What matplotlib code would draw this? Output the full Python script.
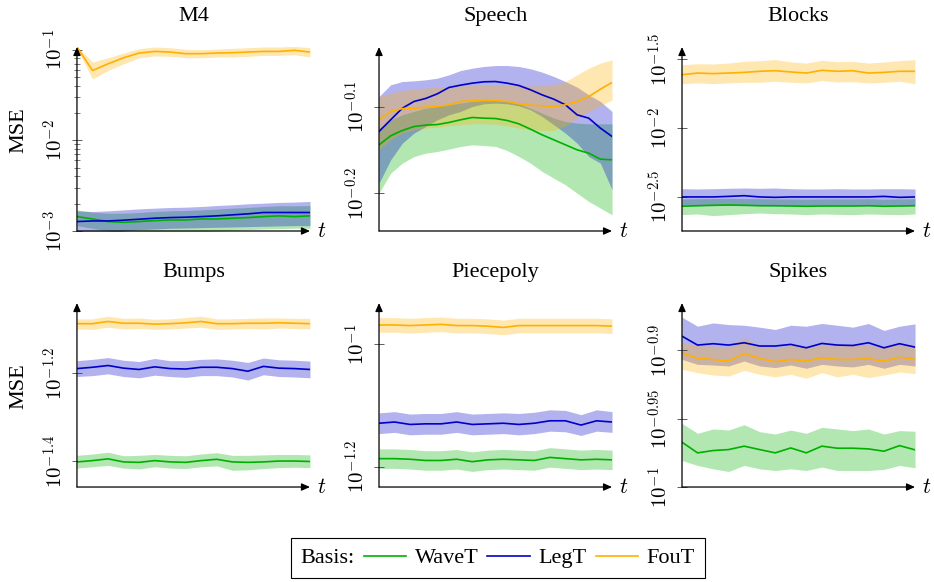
import numpy as np
import matplotlib.pyplot as plt
from matplotlib.lines import Line2D
from matplotlib.ticker import FixedLocator, FixedFormatter, NullLocator, LogLocator, NullFormatter

plt.rcParams['font.family'] = ['Liberation Serif', 'DejaVu Serif']
plt.rcParams['mathtext.fontset'] = 'cm'

bases = ['WaveT', 'LegT', 'FouT']
colors = ['#00b000', '#0000c8', '#ffb000']

# log10(MSE): mean line, lower and upper band edge
m4_wave = [-2.841, -2.867, -2.896, -2.904, -2.896, -2.885, -2.878, -2.878, -2.867, -2.867, -2.859, -2.852, -2.841, -2.833, -2.841, -2.833]
m4_wave_lo = [-2.941, -2.970, -3.000, -3.007, -3.007, -3.007, -3.007, -3.007, -3.007, -3.000, -2.993, -2.985, -2.978, -2.974, -2.970, -2.970]
m4_wave_hi = [-2.767, -2.793, -2.804, -2.804, -2.796, -2.785, -2.778, -2.774, -2.767, -2.759, -2.748, -2.741, -2.730, -2.722, -2.722, -2.719]
m4_leg = [-2.896, -2.889, -2.889, -2.881, -2.870, -2.859, -2.852, -2.848, -2.841, -2.833, -2.822, -2.811, -2.796, -2.796, -2.796, -2.796]
m4_leg_lo = [-3.119, -3.063, -3.026, -3.000, -2.985, -2.978, -2.970, -2.967, -2.963, -2.959, -2.956, -2.952, -2.948, -2.944, -2.941, -2.941]
m4_leg_hi = [-2.778, -2.785, -2.778, -2.767, -2.756, -2.748, -2.741, -2.737, -2.730, -2.719, -2.711, -2.700, -2.693, -2.685, -2.681, -2.674]
m4_fou = [-0.970, -1.230, -1.156, -1.089, -1.037, -1.019, -1.026, -1.044, -1.044, -1.037, -1.033, -1.026, -1.019, -1.019, -1.007, -1.026]
m4_fou_lo = [-0.989, -1.322, -1.230, -1.156, -1.089, -1.070, -1.074, -1.089, -1.089, -1.081, -1.081, -1.074, -1.063, -1.063, -1.056, -1.081]
m4_fou_hi = [-0.963, -1.137, -1.089, -1.037, -0.989, -0.970, -0.978, -0.996, -1.000, -0.993, -0.985, -0.978, -0.970, -0.970, -0.963, -0.978]

speech_wave = [-0.1438, -0.1333, -0.1271, -0.1225, -0.1209, -0.1202, -0.1178, -0.1147, -0.1120, -0.1128, -0.1132, -0.1155, -0.1194, -0.1256, -0.1322, -0.1380, -0.1438, -0.1496, -0.1535, -0.1605, -0.1612]
speech_wave_lo = [-0.2000, -0.1767, -0.1651, -0.1574, -0.1535, -0.1516, -0.1488, -0.1457, -0.1438, -0.1446, -0.1457, -0.1504, -0.1574, -0.1651, -0.1748, -0.1826, -0.1903, -0.2000, -0.2097, -0.2174, -0.2252]
speech_wave_hi = [-0.1244, -0.1147, -0.1089, -0.1050, -0.1012, -0.0992, -0.0973, -0.0953, -0.0934, -0.0922, -0.0922, -0.0934, -0.0961, -0.1012, -0.1070, -0.1128, -0.1167, -0.1186, -0.1194, -0.1194, -0.1194]
speech_leg = [-0.1283, -0.1147, -0.1012, -0.0934, -0.0899, -0.0845, -0.0771, -0.0744, -0.0721, -0.0705, -0.0702, -0.0721, -0.0748, -0.0798, -0.0857, -0.0907, -0.0973, -0.1089, -0.1128, -0.1244, -0.1341]
speech_leg_lo = [-0.1884, -0.1612, -0.1419, -0.1302, -0.1225, -0.1147, -0.1089, -0.1050, -0.0992, -0.0961, -0.0953, -0.0961, -0.0984, -0.1031, -0.1109, -0.1205, -0.1302, -0.1419, -0.1574, -0.1651, -0.1961]
speech_leg_hi = [-0.0876, -0.0740, -0.0702, -0.0694, -0.0682, -0.0663, -0.0624, -0.0574, -0.0547, -0.0527, -0.0516, -0.0516, -0.0527, -0.0554, -0.0593, -0.0643, -0.0702, -0.0767, -0.0857, -0.0934, -0.1050]
speech_fou = [-0.1147, -0.1050, -0.1016, -0.1012, -0.1000, -0.0992, -0.0973, -0.0934, -0.0926, -0.0922, -0.0922, -0.0934, -0.0961, -0.0977, -0.0984, -0.0992, -0.0973, -0.0934, -0.0876, -0.0791, -0.0713]
speech_fou_lo = [-0.1496, -0.1380, -0.1302, -0.1264, -0.1244, -0.1233, -0.1217, -0.1205, -0.1194, -0.1194, -0.1198, -0.1217, -0.1244, -0.1264, -0.1271, -0.1271, -0.1217, -0.1128, -0.1050, -0.0984, -0.0915]
speech_fou_hi = [-0.0876, -0.0837, -0.0806, -0.0791, -0.0779, -0.0767, -0.0760, -0.0752, -0.0744, -0.0740, -0.0740, -0.0744, -0.0752, -0.0752, -0.0752, -0.0740, -0.0702, -0.0624, -0.0547, -0.0488, -0.0450]

blocks_wave = [-2.570, -2.566, -2.563, -2.561, -2.563, -2.566, -2.566, -2.568, -2.570, -2.568, -2.568, -2.568, -2.566, -2.570, -2.568, -2.566]
blocks_wave_lo = [-2.631, -2.626, -2.638, -2.631, -2.624, -2.619, -2.624, -2.626, -2.631, -2.626, -2.629, -2.631, -2.626, -2.629, -2.631, -2.626]
blocks_wave_hi = [-2.517, -2.515, -2.514, -2.512, -2.514, -2.515, -2.517, -2.517, -2.519, -2.517, -2.517, -2.517, -2.515, -2.519, -2.517, -2.515]
blocks_leg = [-2.502, -2.502, -2.502, -2.498, -2.493, -2.502, -2.505, -2.502, -2.502, -2.502, -2.502, -2.502, -2.502, -2.498, -2.505, -2.502]
blocks_leg_lo = [-2.566, -2.566, -2.563, -2.563, -2.563, -2.566, -2.568, -2.566, -2.566, -2.568, -2.566, -2.566, -2.566, -2.566, -2.568, -2.566]
blocks_leg_hi = [-2.442, -2.444, -2.442, -2.439, -2.437, -2.439, -2.437, -2.442, -2.444, -2.444, -2.442, -2.444, -2.444, -2.442, -2.442, -2.444]
blocks_fou = [-1.612, -1.600, -1.604, -1.600, -1.595, -1.587, -1.583, -1.592, -1.600, -1.580, -1.587, -1.583, -1.600, -1.595, -1.587, -1.587]
blocks_fou_lo = [-1.677, -1.672, -1.677, -1.672, -1.667, -1.667, -1.660, -1.667, -1.672, -1.655, -1.665, -1.663, -1.672, -1.667, -1.660, -1.677]
blocks_fou_hi = [-1.539, -1.532, -1.534, -1.527, -1.515, -1.510, -1.502, -1.519, -1.527, -1.507, -1.517, -1.515, -1.527, -1.519, -1.510, -1.502]

bumps_wave = [-1.402, -1.399, -1.395, -1.402, -1.403, -1.399, -1.402, -1.403, -1.399, -1.396, -1.402, -1.403, -1.402, -1.400, -1.400, -1.401]
bumps_wave_lo = [-1.416, -1.413, -1.410, -1.416, -1.418, -1.413, -1.416, -1.417, -1.413, -1.411, -1.421, -1.420, -1.417, -1.415, -1.414, -1.415]
bumps_wave_hi = [-1.387, -1.384, -1.380, -1.388, -1.387, -1.385, -1.387, -1.388, -1.384, -1.381, -1.387, -1.387, -1.386, -1.385, -1.385, -1.386]
bumps_leg = [-1.190, -1.187, -1.183, -1.189, -1.192, -1.186, -1.190, -1.191, -1.187, -1.187, -1.190, -1.196, -1.185, -1.189, -1.190, -1.192]
bumps_leg_lo = [-1.208, -1.206, -1.202, -1.208, -1.211, -1.205, -1.208, -1.210, -1.206, -1.206, -1.209, -1.216, -1.204, -1.208, -1.209, -1.211]
bumps_leg_hi = [-1.172, -1.169, -1.165, -1.171, -1.174, -1.167, -1.172, -1.172, -1.169, -1.168, -1.171, -1.176, -1.166, -1.170, -1.171, -1.173]
bumps_fou = [-1.088, -1.088, -1.083, -1.087, -1.087, -1.089, -1.088, -1.086, -1.083, -1.088, -1.088, -1.087, -1.087, -1.086, -1.087, -1.088]
bumps_fou_lo = [-1.100, -1.101, -1.096, -1.100, -1.099, -1.101, -1.100, -1.098, -1.096, -1.101, -1.100, -1.099, -1.100, -1.098, -1.099, -1.100]
bumps_fou_hi = [-1.077, -1.077, -1.071, -1.076, -1.075, -1.078, -1.077, -1.074, -1.071, -1.077, -1.077, -1.076, -1.075, -1.075, -1.076, -1.076]

piece_wave = [-1.187, -1.187, -1.188, -1.190, -1.190, -1.188, -1.192, -1.189, -1.188, -1.189, -1.190, -1.185, -1.187, -1.189, -1.188, -1.189]
piece_wave_lo = [-1.203, -1.203, -1.204, -1.206, -1.206, -1.204, -1.208, -1.205, -1.204, -1.205, -1.206, -1.201, -1.203, -1.205, -1.204, -1.205]
piece_wave_hi = [-1.171, -1.171, -1.172, -1.174, -1.174, -1.172, -1.176, -1.173, -1.172, -1.173, -1.174, -1.169, -1.171, -1.173, -1.172, -1.173]
piece_leg = [-1.129, -1.127, -1.131, -1.130, -1.130, -1.127, -1.131, -1.130, -1.129, -1.131, -1.129, -1.125, -1.125, -1.132, -1.125, -1.127]
piece_leg_lo = [-1.146, -1.144, -1.148, -1.147, -1.147, -1.144, -1.148, -1.147, -1.146, -1.148, -1.146, -1.142, -1.143, -1.149, -1.142, -1.144]
piece_leg_hi = [-1.112, -1.110, -1.114, -1.113, -1.113, -1.110, -1.114, -1.113, -1.112, -1.113, -1.111, -1.107, -1.108, -1.115, -1.107, -1.110]
piece_fou = [-0.968, -0.968, -0.969, -0.968, -0.967, -0.969, -0.969, -0.970, -0.972, -0.969, -0.969, -0.969, -0.969, -0.969, -0.969, -0.970]
piece_fou_lo = [-0.980, -0.980, -0.981, -0.980, -0.979, -0.981, -0.981, -0.982, -0.984, -0.981, -0.981, -0.981, -0.981, -0.981, -0.981, -0.982]
piece_fou_hi = [-0.956, -0.956, -0.957, -0.956, -0.955, -0.957, -0.957, -0.958, -0.960, -0.957, -0.957, -0.957, -0.957, -0.957, -0.957, -0.958]

spikes_wave = [-0.9672, -0.9750, -0.9733, -0.9726, -0.9701, -0.9726, -0.9750, -0.9714, -0.9750, -0.9701, -0.9716, -0.9716, -0.9721, -0.9738, -0.9697, -0.9728]
spikes_wave_lo = [-0.9806, -0.9842, -0.9867, -0.9886, -0.9842, -0.9867, -0.9879, -0.9867, -0.9879, -0.9854, -0.9879, -0.9879, -0.9879, -0.9871, -0.9842, -0.9859]
spikes_wave_hi = [-0.9534, -0.9607, -0.9575, -0.9583, -0.9544, -0.9595, -0.9612, -0.9583, -0.9607, -0.9563, -0.9575, -0.9587, -0.9575, -0.9612, -0.9587, -0.9592]
spikes_leg = [-0.8896, -0.8961, -0.8951, -0.8961, -0.8944, -0.8968, -0.8968, -0.8956, -0.8981, -0.8949, -0.8961, -0.8964, -0.8944, -0.8981, -0.8951, -0.8976]
spikes_leg_lo = [-0.9066, -0.9102, -0.9107, -0.9114, -0.9078, -0.9114, -0.9126, -0.9107, -0.9131, -0.9102, -0.9114, -0.9121, -0.9102, -0.9131, -0.9102, -0.9114]
spikes_leg_hi = [-0.8757, -0.8823, -0.8799, -0.8811, -0.8816, -0.8830, -0.8847, -0.8816, -0.8823, -0.8803, -0.8816, -0.8830, -0.8803, -0.8854, -0.8823, -0.8806]
spikes_fou = [-0.9017, -0.9058, -0.9066, -0.9078, -0.9024, -0.9058, -0.9083, -0.9066, -0.9078, -0.9053, -0.9066, -0.9066, -0.9061, -0.9078, -0.9049, -0.9066]
spikes_fou_lo = [-0.9138, -0.9163, -0.9180, -0.9187, -0.9146, -0.9175, -0.9194, -0.9175, -0.9204, -0.9163, -0.9194, -0.9175, -0.9199, -0.9180, -0.9158, -0.9170]
spikes_fou_hi = [-0.8944, -0.8961, -0.8968, -0.8976, -0.8908, -0.8968, -0.8985, -0.8961, -0.8976, -0.8951, -0.8968, -0.8961, -0.8961, -0.8976, -0.8944, -0.8968]

# title, y-range (log10), major ticks (log10), series per basis
panels = [
    ('M4', (-3.0, -0.97), [-3, -2, -1],
     [(m4_wave, m4_wave_lo, m4_wave_hi), (m4_leg, m4_leg_lo, m4_leg_hi), (m4_fou, m4_fou_lo, m4_fou_hi)]),
    ('Speech', (-0.244, -0.030), [-0.2, -0.1],
     [(speech_wave, speech_wave_lo, speech_wave_hi), (speech_leg, speech_leg_lo, speech_leg_hi), (speech_fou, speech_fou_lo, speech_fou_hi)]),
    ('Blocks', (-2.75, -1.41), [-2.5, -2, -1.5],
     [(blocks_wave, blocks_wave_lo, blocks_wave_hi), (blocks_leg, blocks_leg_lo, blocks_leg_hi), (blocks_fou, blocks_fou_lo, blocks_fou_hi)]),
    ('Bumps', (-1.459, -1.041), [-1.4, -1.2],
     [(bumps_wave, bumps_wave_lo, bumps_wave_hi), (bumps_leg, bumps_leg_lo, bumps_leg_hi), (bumps_fou, bumps_fou_lo, bumps_fou_hi)]),
    ('Piecepoly', (-1.2335, -0.932), [-1.2, -1],
     [(piece_wave, piece_wave_lo, piece_wave_hi), (piece_leg, piece_leg_lo, piece_leg_hi), (piece_fou, piece_fou_lo, piece_fou_hi)]),
    ('Spikes', (-1.0, -0.8653), [-1, -0.95, -0.9],
     [(spikes_wave, spikes_wave_lo, spikes_wave_hi), (spikes_leg, spikes_leg_lo, spikes_leg_hi), (spikes_fou, spikes_fou_lo, spikes_fou_hi)]),
]

fig = plt.figure(figsize=(9.34, 5.82), dpi=100)
lefts = [0.0824, 0.4058, 0.7302]
bottoms = [0.6031, 0.1632]
w, h = 0.2495, 0.3162

for k, (title, ylim, ticks, series) in enumerate(panels):
    ax = fig.add_axes([lefts[k % 3], bottoms[k // 3], w, h])
    ax.set_yscale('log')
    n = len(series[0][0])
    x = np.arange(n)
    for (mean, lo, hi), c in zip(series, colors):
        ax.fill_between(x, 10 ** np.array(lo), 10 ** np.array(hi), color=c, alpha=0.3, lw=0, zorder=1)
    for (mean, lo, hi), c in zip(series, colors):
        ax.plot(x, 10 ** np.array(mean), color=c, lw=1.2, zorder=2)
    ax.set_xlim(0, n - 1)
    ax.set_ylim(10 ** ylim[0], 10 ** ylim[1])
    ax.yaxis.set_major_locator(FixedLocator([10 ** t for t in ticks]))
    ax.yaxis.set_major_formatter(FixedFormatter([f'$10^{{{t:g}}}$' for t in ticks]))
    if title == 'M4':
        ax.yaxis.set_minor_locator(LogLocator(base=10, subs=np.arange(2, 10)))
    else:
        ax.yaxis.set_minor_locator(NullLocator())
    ax.yaxis.set_minor_formatter(NullFormatter())
    ax.set_xticks([])
    ax.tick_params(axis='y', which='major', direction='inout', length=7, width=0.6,
                   color='#444444', labelsize=15, pad=3)
    ax.tick_params(axis='y', which='minor', direction='inout', length=4, width=0.5, color='#444444')
    for lab in ax.get_yticklabels():
        lab.set_rotation(90)
        lab.set_va('center')
    for s in ax.spines.values():
        s.set_visible(False)
    arrow = dict(arrowstyle='-|>,head_length=0.5,head_width=0.22', lw=0.9, color='black',
                 shrinkA=0, shrinkB=0)
    ax.annotate('', xy=(1.0, 0), xytext=(0, 0), xycoords='axes fraction',
                textcoords='axes fraction', arrowprops=arrow, annotation_clip=False)
    ax.annotate('', xy=(0, 1.0), xytext=(0, 0), xycoords='axes fraction',
                textcoords='axes fraction', arrowprops=arrow, annotation_clip=False)
    ax.text(1.05, -0.01, '$t$', transform=ax.transAxes, fontsize=16, ha='center', va='center')
    ax.set_title(title, fontsize=16, pad=19)
    if k % 3 == 0:
        ax.text(-0.25, 0.55, 'MSE', transform=ax.transAxes, rotation=90, fontsize=16,
                ha='center', va='center')

handles = [Line2D([], [], color=c, lw=1.2) for c in colors]
leg = fig.legend(handles, bases, loc='center', bbox_to_anchor=(0.533, 0.041), ncol=3,
                 title='Basis:', fontsize=16, title_fontsize=16, fancybox=False,
                 edgecolor='black', framealpha=1, handlelength=1.9, handletextpad=0.4,
                 columnspacing=0.4, borderpad=0.45, borderaxespad=0)
leg.get_frame().set_linewidth(0.8)
# put the legend title in line with the entries
box = leg.get_children()[0]
title_box, cols = box.get_children()
box._children = [cols]
cols._children = [title_box] + cols.get_children()

fig.savefig('out.png', dpi=100)
